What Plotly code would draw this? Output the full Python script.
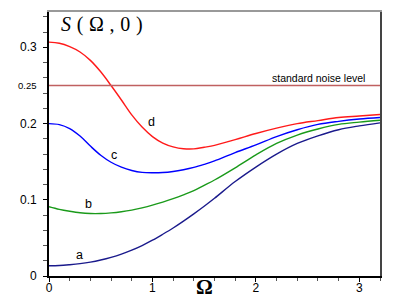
import plotly.graph_objects as go

omega = [0, 0.1, 0.2, 0.3, 0.4, 0.5, 0.6, 0.7, 0.8, 0.9, 1.0, 1.1, 1.2, 1.3, 1.4, 1.5, 1.6,
         1.8, 2.0, 2.2, 2.4, 2.6, 2.8, 3.0, 3.2]
s_a = [0.0135, 0.0138, 0.0148, 0.0162, 0.0182, 0.021, 0.0245, 0.0288, 0.034, 0.040, 0.047,
       0.0548, 0.063, 0.072, 0.0815, 0.0915, 0.102,
       0.124, 0.143, 0.160, 0.174, 0.184, 0.192, 0.197, 0.201]
s_b = [0.091, 0.0875, 0.085, 0.083, 0.082, 0.082, 0.0828, 0.0843, 0.0865, 0.0895, 0.093,
       0.097, 0.1015, 0.1065, 0.112, 0.119, 0.126,
       0.142, 0.159, 0.174, 0.185, 0.193, 0.199, 0.202, 0.2045]
s_c = [0.200, 0.1987, 0.1935, 0.1837, 0.1705, 0.1585, 0.1493, 0.1428, 0.1385, 0.136, 0.1355,
       0.1358, 0.1372, 0.1395, 0.1425, 0.1465, 0.151,
       0.162, 0.172, 0.183, 0.192, 0.199, 0.203, 0.206, 0.208]
s_d = [0.307, 0.3055, 0.301, 0.294, 0.283, 0.268, 0.250, 0.231, 0.2115, 0.1955, 0.183,
       0.1745, 0.1695, 0.167, 0.1668, 0.169, 0.1715,
       0.179, 0.187, 0.194, 0.200, 0.204, 0.208, 0.210, 0.212]
noise_level = 0.25

curve_names = ["a", "b", "c", "d"]
curve_colors = ["#1a1a8c", "#1a9a1a", "#0000ff", "#ff1a1a"]
label_pos = [(0.297, 0.0276), (0.385, 0.0945), (0.626, 0.159), (0.993, 0.202)]

x_range = [0, 3.2]
y_range = [0, 0.3465]
x_ticks = [0, 1, 2, 3]
y_ticks = [0, 0.1, 0.2, 0.25, 0.3]
y_tick_text = ["0", "0.1", "0.2", "0.25", "0.3"]
y_tick_size = [12, 12, 12, 9.5, 12]

fig = go.Figure()

# noise line drawn on the overlay axes (top/right frame lines)
fig.add_trace(go.Scatter(x=x_range, y=[noise_level, noise_level], mode="lines",
                         xaxis="x2", yaxis="y2",
                         line=dict(color="#c06060", width=1.5), hoverinfo="skip"))

for name, ys, col in zip(curve_names, [s_a, s_b, s_c, s_d], curve_colors):
    fig.add_trace(go.Scatter(x=omega, y=ys, mode="lines", name=name,
                             line=dict(color=col, width=1.4, shape="spline", smoothing=1.0)))

for name, (lx, ly) in zip(curve_names, label_pos):
    fig.add_annotation(x=lx, y=ly, text=name, showarrow=False,
                       font=dict(family="Liberation Sans", size=12.5, color="black"))

fig.add_annotation(x=3.2, y=noise_level, xanchor="right", yanchor="bottom", yshift=0, xshift=-13,
                   text="standard noise level", showarrow=False,
                   font=dict(family="Liberation Sans", size=10.5, color="black"))

# y tick labels
for yv, yt, ys in zip(y_ticks, y_tick_text, y_tick_size):
    fig.add_annotation(x=0, y=yv, xanchor="right", yanchor="middle", xshift=-10,
                       text=yt, showarrow=False,
                       font=dict(family="Liberation Sans", size=ys, color="black"))

ts = "\u2009\u200a"
fig.add_annotation(x=10 / 331, y=1 - 13 / 264, xref="paper", yref="paper",
                   xanchor="left", yanchor="middle",
                   text="<i>S</i>" + ts + "(" + ts + "Ω" + ts + "," + ts + "0" + ts + ")",
                   showarrow=False,
                   font=dict(family="Liberation Serif", size=20, color="black"))

fig.add_annotation(x=(204 - 49) / 331, y=-(287 - 276) / 264, xref="paper", yref="paper",
                   xanchor="center", yanchor="middle",
                   text="<b>Ω</b>", showarrow=False,
                   font=dict(family="Liberation Serif", size=21, color="black"))

fig.update_layout(
    template="none",
    width=409, height=300,
    margin=dict(l=49, r=29, t=12, b=24, autoexpand=False),
    paper_bgcolor="white", plot_bgcolor="white",
    showlegend=False,
    xaxis=dict(range=x_range, tickvals=x_ticks, ticktext=[str(v) for v in x_ticks],
               automargin=False,
               showgrid=False, zeroline=False, showline=True, linecolor="black", linewidth=2,
               ticks="outside", ticklen=4, tickcolor="black", tickwidth=1,
               ticklabelstandoff=-4,
               tickfont=dict(family="Liberation Sans", size=12, color="black"),
               minor=dict(tickmode="linear", tick0=0, dtick=0.2, ticks="outside", ticklen=3,
                          tickcolor="#555555", showgrid=False)),
    yaxis=dict(range=y_range, tickvals=[0, 0.1, 0.2, 0.3], showticklabels=False,
               automargin=False,
               showgrid=False, zeroline=False, showline=True, linecolor="black", linewidth=2,
               ticks="outside", ticklen=4, tickcolor="black", tickwidth=1,
               minor=dict(tickmode="linear", tick0=0, dtick=0.02, ticks="outside", ticklen=4,
                          tickcolor="#555555", showgrid=False)),
    xaxis2=dict(range=x_range, overlaying="x", side="top", showline=True,
                linecolor="#999999", linewidth=1.5, showticklabels=False, ticks="",
                showgrid=False, zeroline=False, automargin=False),
    yaxis2=dict(range=y_range, overlaying="y", side="right", showline=True,
                linecolor="#444444", linewidth=2, showticklabels=False, ticks="",
                showgrid=False, zeroline=False, automargin=False),
)

fig.write_html("out.html", config={"displayModeBar": False},
               post_script="document.body.style.margin='0';document.body.style.overflow='hidden';")
